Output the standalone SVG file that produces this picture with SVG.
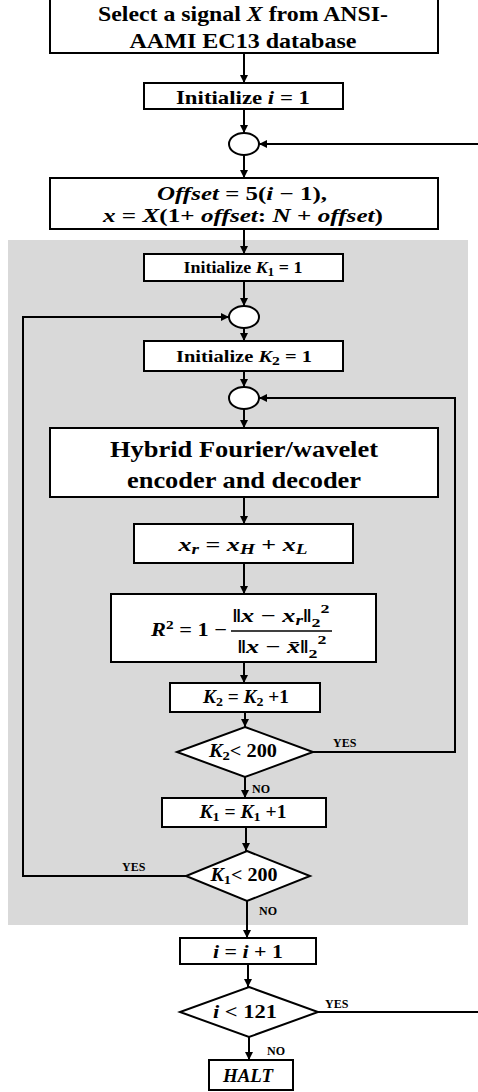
<svg xmlns="http://www.w3.org/2000/svg" width="478" height="1092" viewBox="0 0 478 1092">
<style>
.box{fill:#fff;stroke:#000;stroke-width:2}
.t{font-family:"Liberation Serif","Times New Roman",serif;font-weight:bold;fill:#000;text-anchor:middle}
.m{font-family:"Liberation Serif","Times New Roman",serif;font-weight:bold;font-style:italic;fill:#000;text-anchor:middle}
.u{font-style:normal}
.lbl{font-family:"Liberation Serif","Times New Roman",serif;font-weight:bold;font-size:12px;fill:#000}
.c{fill:none;stroke:#000;stroke-width:2}
</style>
<defs>
<marker id="ah" markerUnits="userSpaceOnUse" markerWidth="9" markerHeight="9" refX="8" refY="4" orient="auto">
<path d="M0,0 L8,4 L0,8 z" fill="#000"/>
</marker>
</defs>
<rect x="8" y="240" width="460" height="685" fill="#d9d9d9"/>

<g id="connectors">
<line class="c" x1="244" y1="53" x2="244" y2="83" marker-end="url(#ah)"/>
<line class="c" x1="244" y1="109" x2="244" y2="133" marker-end="url(#ah)"/>
<line class="c" x1="478" y1="144" x2="259" y2="144" marker-end="url(#ah)"/>
<line class="c" x1="244" y1="155" x2="244" y2="178" marker-end="url(#ah)"/>
<line class="c" x1="244" y1="229" x2="244" y2="254" marker-end="url(#ah)"/>
<line class="c" x1="244" y1="281" x2="244" y2="306" marker-end="url(#ah)"/>
<polyline class="c" points="186,876 23,876 23,317 229,317" marker-end="url(#ah)"/>
<line class="c" x1="244" y1="328" x2="244" y2="341" marker-end="url(#ah)"/>
<line class="c" x1="244" y1="371" x2="244" y2="387" marker-end="url(#ah)"/>
<polyline class="c" points="313,752 455,752 455,398 259,398" marker-end="url(#ah)"/>
<line class="c" x1="244" y1="409" x2="244" y2="428" marker-end="url(#ah)"/>
<line class="c" x1="244" y1="497" x2="244" y2="524" marker-end="url(#ah)"/>
<line class="c" x1="244" y1="563" x2="244" y2="594" marker-end="url(#ah)"/>
<line class="c" x1="244" y1="662" x2="244" y2="683" marker-end="url(#ah)"/>
<line class="c" x1="245" y1="712" x2="245" y2="727" marker-end="url(#ah)"/>
<line class="c" x1="245" y1="777" x2="245" y2="798" marker-end="url(#ah)"/>
<line class="c" x1="246" y1="827" x2="246" y2="851" marker-end="url(#ah)"/>
<line class="c" x1="247" y1="901" x2="247" y2="938" marker-end="url(#ah)"/>
<line class="c" x1="248" y1="964" x2="248" y2="987" marker-end="url(#ah)"/>
<line class="c" x1="318" y1="1012" x2="478" y2="1012"/>
<line class="c" x1="249" y1="1037" x2="249" y2="1060" marker-end="url(#ah)"/>
<text class="lbl" x="333" y="747">YES</text>
<text class="lbl" x="252" y="793">NO</text>
<text class="lbl" x="122" y="871">YES</text>
<text class="lbl" x="259" y="915">NO</text>
<text class="lbl" x="325" y="1008">YES</text>
<text class="lbl" x="267" y="1055">NO</text>
</g>

<g id="select">
<rect class="box" x="50" y="-2" width="388" height="55"/>
<text class="t" x="243" y="21" font-size="21" textLength="290" lengthAdjust="spacingAndGlyphs">Select a signal <tspan font-style="italic">X</tspan> from ANSI-</text>
<text class="t" x="243" y="48" font-size="21" textLength="227" lengthAdjust="spacingAndGlyphs">AAMI EC13 database</text>
</g>

<g id="init_i">
<rect class="box" x="144" y="83" width="199" height="26"/>
<text class="t" x="243" y="104" font-size="19" textLength="134" lengthAdjust="spacingAndGlyphs">Initialize <tspan font-style="italic">i</tspan> = 1</text>
</g>

<g id="join_i">
<ellipse class="box" cx="244" cy="144" rx="15" ry="11"/>
</g>

<g id="offset">
<rect class="box" x="50" y="178" width="388" height="51"/>
<text class="m" x="242" y="200" font-size="19" textLength="170" lengthAdjust="spacingAndGlyphs">Offset = <tspan class="u">5(</tspan>i <tspan class="u">− 1),</tspan></text>
<text class="m" x="243" y="222" font-size="19" textLength="280" lengthAdjust="spacingAndGlyphs">x <tspan class="u">=  </tspan>X<tspan class="u">(1+ </tspan>offset<tspan class="u">: </tspan>N <tspan class="u">+ </tspan>offset<tspan class="u">)</tspan></text>
</g>

<g id="init_k1">
<rect class="box" x="144" y="254" width="199" height="27"/>
<text class="t" x="243" y="273" font-size="16" textLength="119" lengthAdjust="spacingAndGlyphs">Initialize <tspan font-style="italic">K</tspan><tspan font-size="12" dy="3">1</tspan><tspan dy="-3"> = 1</tspan></text>
</g>

<g id="join_k1">
<ellipse class="box" cx="244" cy="317" rx="15" ry="11"/>
</g>

<g id="init_k2">
<rect class="box" x="144" y="341" width="199" height="30"/>
<text class="t" x="244" y="362" font-size="17" textLength="136" lengthAdjust="spacingAndGlyphs">Initialize <tspan font-style="italic">K</tspan><tspan font-size="13" dy="3">2</tspan><tspan dy="-3"> = 1</tspan></text>
</g>

<g id="join_k2">
<ellipse class="box" cx="244" cy="398" rx="15" ry="11"/>
</g>

<g id="hybrid">
<rect class="box" x="50" y="428" width="388" height="69"/>
<text class="t" x="244" y="457" font-size="24" textLength="268" lengthAdjust="spacingAndGlyphs">Hybrid Fourier/wavelet</text>
<text class="t" x="244" y="488" font-size="24" textLength="234" lengthAdjust="spacingAndGlyphs">encoder and decoder</text>
</g>

<g id="xr">
<rect class="box" x="134" y="524" width="219" height="39"/>
<text class="m" x="243" y="551" font-size="19" textLength="129" lengthAdjust="spacingAndGlyphs">x<tspan font-size="14" dy="3">r</tspan><tspan class="u" dy="-3"> =  </tspan>x<tspan font-size="14" dy="3">H</tspan><tspan class="u" dy="-3"> + </tspan>x<tspan font-size="14" dy="3">L</tspan></text>
</g>

<g id="r2">
<rect class="box" x="111" y="594" width="265" height="68"/>
<text class="m" x="189" y="636" font-size="19" textLength="76" lengthAdjust="spacingAndGlyphs">R<tspan class="u" font-size="13" dy="-7">2</tspan><tspan class="u" dy="7"> = 1 −</tspan></text>
<line x1="231" y1="631" x2="332" y2="631" stroke="#000" stroke-width="1.5"/>
<text class="m" x="281" y="622" font-size="19" textLength="97" lengthAdjust="spacingAndGlyphs"><tspan class="u">‖</tspan>x <tspan class="u">− </tspan> x<tspan font-size="14" dy="3">r</tspan><tspan class="u" dy="-3">‖</tspan><tspan class="u" font-size="13" dy="5">2</tspan><tspan class="u" font-size="13" dy="-14">2</tspan></text>
<text class="m" x="282" y="653" font-size="19" textLength="89" lengthAdjust="spacingAndGlyphs"><tspan class="u">‖</tspan>x <tspan class="u">− </tspan> x̄<tspan class="u">‖</tspan><tspan class="u" font-size="13" dy="5">2</tspan><tspan class="u" font-size="13" dy="-14">2</tspan></text>
</g>

<g id="k2inc">
<rect class="box" x="170" y="683" width="150" height="29"/>
<text class="m" x="246" y="703" font-size="18" textLength="86" lengthAdjust="spacingAndGlyphs">K<tspan class="u" font-size="13" dy="3">2</tspan><tspan class="u" dy="-3"> = </tspan>K<tspan class="u" font-size="13" dy="3">2</tspan><tspan class="u" dy="-3"> +1</tspan></text>
</g>

<g id="k2test">
<polygon class="box" points="245,727 313,752 245,777 177,752"/>
<text class="m" x="243" y="757" font-size="18" textLength="68" lengthAdjust="spacingAndGlyphs">K<tspan class="u" font-size="13" dy="3">2</tspan><tspan class="u" dy="-3">&lt; 200</tspan></text>
</g>

<g id="k1inc">
<rect class="box" x="162" y="798" width="164" height="29"/>
<text class="m" x="243" y="818" font-size="18" textLength="87" lengthAdjust="spacingAndGlyphs">K<tspan class="u" font-size="13" dy="3">1</tspan><tspan class="u" dy="-3"> = </tspan>K<tspan class="u" font-size="13" dy="3">1</tspan><tspan class="u" dy="-3"> +1</tspan></text>
</g>

<g id="k1test">
<polygon class="box" points="247,851 310,876 247,901 186,876"/>
<text class="m" x="244" y="881" font-size="18" textLength="67" lengthAdjust="spacingAndGlyphs">K<tspan class="u" font-size="13" dy="3">1</tspan><tspan class="u" dy="-3">&lt; 200</tspan></text>
</g>

<g id="iinc">
<rect class="box" x="180" y="938" width="136" height="26"/>
<text class="m" x="248" y="958" font-size="19" textLength="70" lengthAdjust="spacingAndGlyphs">i <tspan class="u">= </tspan>i <tspan class="u">+ 1</tspan></text>
</g>

<g id="itest">
<polygon class="box" points="249,987 318,1012 249,1037 180,1012"/>
<text class="m" x="245" y="1018" font-size="19" textLength="64" lengthAdjust="spacingAndGlyphs">i <tspan class="u">&lt; 121</tspan></text>
</g>

<g id="halt">
<rect class="box" x="209" y="1060" width="84" height="30"/>
<text class="m" x="248" y="1082" font-size="18" textLength="50" lengthAdjust="spacingAndGlyphs">HALT</text>
</g>
</svg>
